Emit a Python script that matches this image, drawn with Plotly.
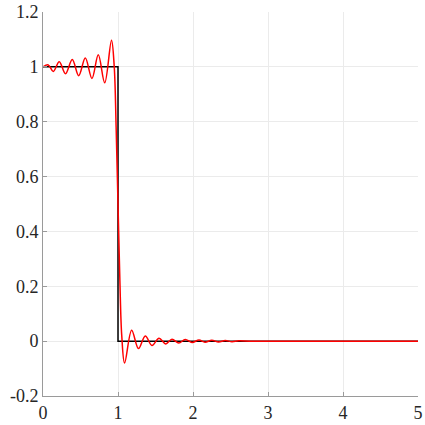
import plotly.graph_objects as go

# Step function (black)
step_x = [0, 1, 1, 5]
step_y = [1, 1, 0, 0]

# Approximation (red): extrema and points on the steep drop
approx_x = [0.0, 0.07, 0.137, 0.217, 0.30, 0.39, 0.476, 0.564, 0.653, 0.737, 0.823, 0.913,
            0.95, 0.975, 1.0, 1.025, 1.05, 1.088,
            1.182, 1.273, 1.364, 1.453, 1.547, 1.636, 1.72, 1.81, 1.897, 1.987, 2.08,
            2.16, 2.25, 2.34, 2.43, 2.52, 2.61, 2.75, 3.0, 4.0, 5.0]
approx_y = [1.0, 1.007, 0.983, 1.019, 0.975, 1.027, 0.968, 1.032, 0.958, 1.044, 0.942, 1.097,
            1.0, 0.78, 0.5, 0.22, 0.02, -0.08,
            0.04, -0.027, 0.019, -0.016, 0.011, -0.010, 0.007, -0.007, 0.006, -0.005, 0.004,
            -0.004, 0.003, -0.003, 0.002, -0.002, 0.001, 0.0, 0.0, 0.0, 0.0]

x_ticks = [0, 1, 2, 3, 4, 5]
x_ticktext = ["0", "1", "2", "3", "4", "5"]
y_ticks = [-0.2, 0, 0.2, 0.4, 0.6, 0.8, 1.0, 1.2]
y_ticktext = ["-0.2", "0", "0.2", "0.4", "0.6", "0.8", "1", "1.2"]

fig = go.Figure()
fig.add_trace(go.Scatter(x=step_x, y=step_y, mode="lines",
                         line=dict(color="black", width=1.5), showlegend=False))
fig.add_trace(go.Scatter(x=approx_x, y=approx_y, mode="lines",
                         line=dict(color="red", width=1.5, shape="spline", smoothing=1.0),
                         showlegend=False))

axis_common = dict(showgrid=True, gridcolor="#ebebeb", gridwidth=1,
                   showline=True, linecolor="#9a9a9a", linewidth=1,
                   ticks="inside", ticklen=4, tickcolor="#9a9a9a",
                   zeroline=False, mirror=False, automargin=False,
                   ticklabeloverflow="allow",
                   tickfont=dict(family="'Liberation Serif', 'Times New Roman', 'DejaVu Serif', serif",
                                 size=18, color="#262626"))

fig.update_xaxes(range=[0, 5], tickvals=x_ticks, ticktext=x_ticktext, **axis_common)
fig.update_yaxes(range=[-0.2, 1.2], tickvals=y_ticks, ticktext=y_ticktext, **axis_common)

fig.update_layout(width=425, height=425,
                  margin=dict(l=43, r=7, t=12, b=29),
                  paper_bgcolor="white", plot_bgcolor="white")

fig.write_html("out.html", config={"displayModeBar": False},
               post_script="document.body.style.margin='0';")
